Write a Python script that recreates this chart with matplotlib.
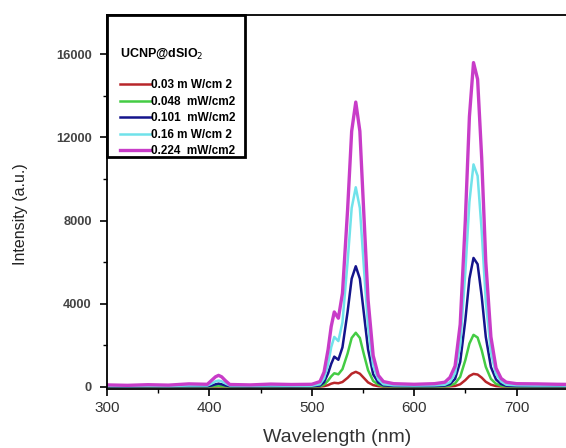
import numpy as np
import matplotlib
matplotlib.use("Agg")
import matplotlib.pyplot as plt
from matplotlib.patches import Rectangle

plt.rcParams['font.family'] = ['Liberation Sans', 'DejaVu Sans']

# wavelength grid (nm)
wl = [300, 320, 340, 360, 380, 398, 402, 406, 409, 412, 416, 420, 440, 460, 480,
      500, 508, 512, 516, 519, 522, 526, 530, 535, 539, 543, 547, 551, 555, 560,
      565, 570, 580, 600, 620, 630, 635, 640, 645, 650, 654, 658, 662, 666, 670,
      675, 680, 685, 690, 700, 720, 740, 760, 780, 800]

# intensities
i_003 = [10, 10, 10, 10, 10, 10, 10, 10, 15, 10, 10, 10, 10, 10, 10,
         10, 10, 30, 80, 150, 190, 170, 230, 430, 630, 720, 630, 420, 210, 80,
         30, 10, 10, 10, 10, 15, 20, 40, 120, 320, 520, 620, 590, 440, 240,
         100, 35, 15, 10, 10, 10, 10, 10, 10, 10]
i_0048 = [15, 15, 15, 15, 15, 15, 20, 30, 40, 30, 20, 15, 15, 15, 15,
          15, 30, 100, 300, 500, 650, 600, 850, 1600, 2350, 2600, 2350, 1550, 800, 280,
          100, 30, 20, 15, 15, 25, 60, 160, 480, 1280, 2080, 2500, 2370, 1760, 960,
          380, 140, 50, 20, 15, 15, 15, 15, 15, 15]
i_0101 = [25, 20, 30, 25, 30, 30, 60, 120, 150, 120, 60, 30, 25, 30, 25,
          30, 60, 220, 650, 1100, 1450, 1300, 1900, 3600, 5200, 5800, 5200, 3500, 1800, 600,
          200, 70, 40, 30, 35, 60, 130, 380, 1200, 3200, 5200, 6200, 5900, 4350, 2400,
          950, 350, 130, 50, 35, 30, 30, 25, 25, 25]
i_016 = [50, 40, 50, 40, 60, 60, 150, 260, 300, 260, 150, 60, 50, 60, 50,
         50, 120, 400, 1100, 1900, 2400, 2200, 3100, 6000, 8600, 9600, 8600, 5700, 2900, 1000,
         350, 120, 70, 60, 70, 100, 220, 650, 2000, 5500, 8900, 10700, 10150, 7500, 4100,
         1650, 600, 250, 100, 70, 60, 60, 50, 50, 50]
i_0224 = [90, 70, 100, 80, 140, 120, 300, 480, 550, 480, 280, 110, 90, 130, 110,
          120, 250, 700, 1800, 2900, 3600, 3300, 4500, 8500, 12300, 13700, 12300, 8200, 4200, 1500,
          550, 250, 150, 120, 150, 220, 450, 1000, 3000, 8000, 13000, 15600, 14800, 11000, 6000,
          2400, 900, 400, 220, 150, 140, 120, 110, 110, 100]

labels = ['0.03 m W/cm 2', '0.048  mW/cm2', '0.101  mW/cm2', '0.16 m W/cm 2', '0.224  mW/cm2']
colors = ['#b8262a', '#44cc44', '#14148c', '#70e2ea', '#c83cc8']
series = [i_003, i_0048, i_0101, i_016, i_0224]
widths = [1.8, 1.8, 1.8, 1.8, 2.4]

fig = plt.figure(figsize=(5.66, 4.48), dpi=100)
ax = fig.add_axes([0.189, 0.132, 0.814, 0.835])

for y, c, lab, lw in zip(series, colors, labels, widths):
    ax.plot(wl, y, color=c, lw=lw, label=lab)

ax.set_xlim(300, 750)
ax.set_ylim(-100, 17900)
ax.set_xticks([300, 400, 500, 600, 700])
ax.set_xticks([350, 450, 550, 650], minor=True)
ax.set_yticks([0, 4000, 8000, 12000, 16000])
ax.set_yticks([2000, 6000, 10000, 14000], minor=True)
ax.tick_params(which='major', direction='out', length=5, width=1.2)
ax.tick_params(axis='y', which='major', pad=6)
ax.tick_params(which='minor', direction='out', length=3, width=1.0)
ax.spines['right'].set_visible(False)
for s in ['left', 'bottom', 'top']:
    ax.spines[s].set_linewidth(1.3)
for t in ax.get_xticklabels():
    t.set_fontsize(11)
    t.set_color('#333333')
for t in ax.get_yticklabels():
    t.set_fontsize(9.3)
    t.set_fontweight('bold')
    t.set_color('#444444')

ax.set_xlabel('Wavelength (nm)', fontsize=14, color='#333333', labelpad=10)
ax.set_ylabel('Intensity (a.u.)', fontsize=11.5, color='#222222')
ax.yaxis.set_label_coords(-0.172, 0.468)

# legend box drawn as its own frame
ax.add_patch(Rectangle((0, 0.62), 0.2995, 0.38, transform=ax.transAxes,
                       facecolor='white', edgecolor='black', lw=2.0,
                       zorder=5, clip_on=False))
leg = ax.legend(loc='upper left', bbox_to_anchor=(0.028, 0.915), borderaxespad=0,
                title='UCNP@dSIO$_2$\n', frameon=False, handlelength=2.6,
                handletextpad=0.0, labelspacing=0.38, borderpad=0.0,
                prop={'size': 8.5, 'weight': 'bold'})
leg.set_zorder(6)
leg.get_title().set_fontsize(9)
leg.get_title().set_fontweight('bold')
leg._legend_box.align = 'left'

fig.savefig('out.png', dpi=100)
